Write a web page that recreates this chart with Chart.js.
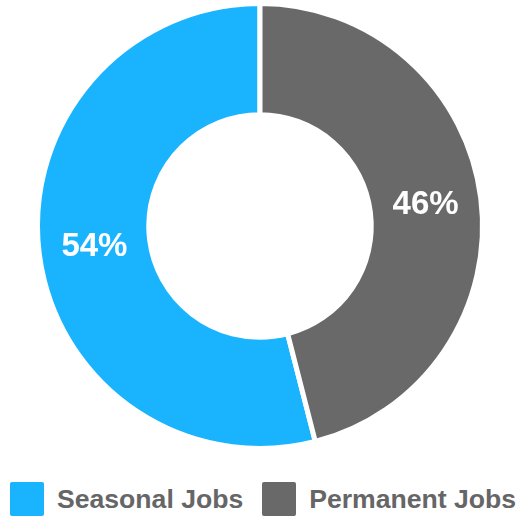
<!DOCTYPE html>
<html>
<head>
<meta charset="utf-8">
<script src="https://cdn.jsdelivr.net/npm/chart.js@4/dist/chart.umd.min.js"></script>
<style>
  html, body { margin: 0; padding: 0; background: #ffffff; }
  #wrap { position: relative; width: 520px; height: 519px; overflow: hidden; }
  #c { position: absolute; left: 0; top: 0; }
  #legend {
    position: absolute; left: 10px; top: 482px; width: 510px; height: 34px;
    display: flex; align-items: center; white-space: nowrap;
    font: bold 26.6px/34px "Liberation Sans", Arial, sans-serif; color: #666666;
  }
  .item { display: flex; align-items: center; margin-right: 19px; flex: none; }
  .box { width: 34px; height: 34px; border-radius: 2px; margin-right: 13px; flex: none; }
</style>
</head>
<body>
<div id="wrap">
  <canvas id="c" width="520" height="451"></canvas>
  <div id="legend"></div>
</div>
<script>
const categories = ['Seasonal Jobs', 'Permanent Jobs'];
const shares = [54, 46];
const colors = ['#1AB4FE', '#696969'];

// Percent labels drawn at the middle of each ring segment
const sliceLabels = {
  id: 'sliceLabels',
  afterDatasetsDraw(chart) {
    const ctx = chart.ctx;
    const meta = chart.getDatasetMeta(0);
    ctx.save();
    ctx.fillStyle = '#ffffff';
    ctx.font = 'bold 33px "Liberation Sans", Arial, sans-serif';
    ctx.textAlign = 'center';
    ctx.textBaseline = 'middle';
    meta.data.forEach((arc, i) => {
      const p = arc.tooltipPosition();
      ctx.fillText(shares[i] + '%', p.x, p.y);
    });
    ctx.restore();
  }
};

const chart = new Chart(document.getElementById('c'), {
  type: 'doughnut',
  data: {
    labels: categories,
    datasets: [{
      data: shares,
      backgroundColor: colors,
      borderColor: '#ffffff',
      borderWidth: 5,
      hoverOffset: 0
    }]
  },
  options: {
    responsive: false,
    animation: false,
    cutout: '50%',
    rotation: 165.6,
    layout: { padding: { top: 1 } },
    plugins: {
      tooltip: { enabled: false },
      legend: { display: false }
    }
  },
  plugins: [sliceLabels]
});

// Legend row below the ring, built from the chart's own labels and colours
const legend = document.getElementById('legend');
chart.data.labels.forEach((label, i) => {
  const item = document.createElement('div');
  item.className = 'item';
  const box = document.createElement('span');
  box.className = 'box';
  box.style.background = chart.data.datasets[0].backgroundColor[i];
  const text = document.createElement('span');
  text.textContent = label;
  item.appendChild(box);
  item.appendChild(text);
  legend.appendChild(item);
});
</script>
</body>
</html>
